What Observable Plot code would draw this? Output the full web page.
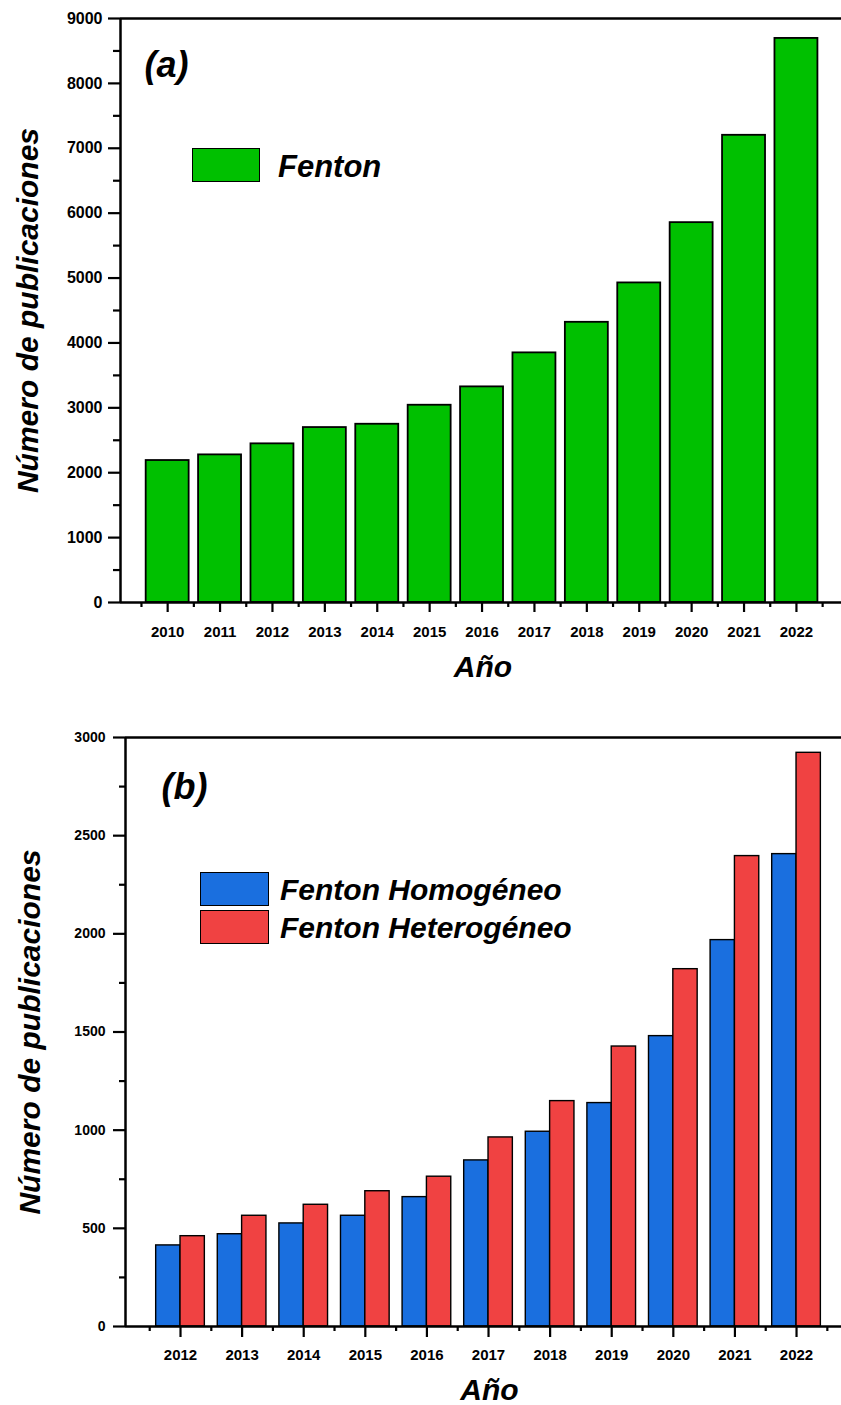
<!DOCTYPE html>
<html>
<head>
<meta charset="utf-8">
<script src="https://cdn.jsdelivr.net/npm/d3@7"></script>
<script src="https://cdn.jsdelivr.net/npm/@observablehq/plot@0.6"></script>
<style>
  body { margin: 0; background: #fff; font-family: "Liberation Sans", Arial, sans-serif; }
  #wrap { position: relative; width: 841px; height: 1405px; overflow: hidden; }
  #wrap svg { display: block; }
  .sw { position: absolute; box-sizing: border-box; border: 1.5px solid #000; }
  .lt { position: absolute; font-weight: bold; font-style: italic; color: #000; white-space: nowrap; line-height: 1; transform: translateY(-50%); }
</style>
</head>
<body>
<div id="wrap"></div>
<script>
// ---- Data ----
const yearsA = [2010, 2011, 2012, 2013, 2014, 2015, 2016, 2017, 2018, 2019, 2020, 2021, 2022];
const fenton = [2188, 2275, 2445, 2696, 2747, 3040, 3323, 3847, 4318, 4925, 5854, 7200, 8693];

const yearsB = [2012, 2013, 2014, 2015, 2016, 2017, 2018, 2019, 2020, 2021, 2022];
const homogeneo = [413, 470, 525, 564, 659, 846, 992, 1138, 1479, 1968, 2406];
const heterogeneo = [460, 564, 620, 689, 763, 963, 1148, 1426, 1820, 2396, 2922];

const yTicksA = [0, 1000, 2000, 3000, 4000, 5000, 6000, 7000, 8000, 9000];
const yMinorA = [500, 1500, 2500, 3500, 4500, 5500, 6500, 7500, 8500];
const yTicksB = [0, 500, 1000, 1500, 2000, 2500, 3000];
const yMinorB = [250, 750, 1250, 1750, 2250, 2750];

const seriesNames = ["Fenton Homogéneo", "Fenton Heterogéneo"];
const colors = { green: "#00c000", blue: "#1a6fdf", red: "#f04242" };

const FONT = "'Liberation Sans', Arial, sans-serif";
const fmt = d3.format("d");

const dataA = yearsA.map((y, i) => ({ year: y, value: fenton[i] }));
const dataHom = yearsB.map((y, i) => ({ year: y, value: homogeneo[i] }));
const dataHet = yearsB.map((y, i) => ({ year: y, value: heterogeneo[i] }));
const halfA = yearsA.map(y => y - 0.5).concat([yearsA[yearsA.length - 1] + 0.5]);
const halfB = yearsB.map(y => y - 0.5).concat([yearsB[yearsB.length - 1] + 0.5]);

const wrap = document.getElementById("wrap");

function titleMarks(dxY, dyX, dxX) {
  return [
    Plot.text(["Número de publicaciones"], {
      text: d => d, frameAnchor: "left", textAnchor: "middle", lineAnchor: "middle",
      rotate: -90, dx: dxY,
      fontSize: 30, fontWeight: "bold", fontStyle: "italic", fill: "#000"
    }),
    Plot.text(["Año"], {
      text: d => d, frameAnchor: "bottom", textAnchor: "middle", lineAnchor: "middle",
      dy: dyX, dx: dxX,
      fontSize: 30, fontWeight: "bold", fontStyle: "italic", fill: "#000"
    })
  ];
}

// ---- Chart (a) ----
const xDomA = [2009.1, 2022.86];
const chartA = Plot.plot({
  width: 841, height: 700,
  marginTop: 18, marginBottom: 98, marginLeft: 120, marginRight: 0,
  style: { fontFamily: FONT, background: "transparent", overflow: "visible" },
  x: { domain: xDomA },
  y: { domain: [0, 9000] },
  marks: [
    Plot.rectY(dataA, {
      x1: d => d.year - 0.41, x2: d => d.year + 0.41, y: "value",
      fill: colors.green, stroke: "#000", strokeWidth: 1.8
    }),
    Plot.ruleY([9000], { stroke: "#000", strokeWidth: 2.5 }),
    Plot.ruleY([0], { stroke: "#000", strokeWidth: 2.5 }),
    Plot.ruleX([xDomA[0]], { stroke: "#000", strokeWidth: 2.5 }),
    Plot.axisY({ ticks: yTicksA, tickSize: 12, tickPadding: 6, tickFormat: fmt, fontSize: 16, fontWeight: "bold", fill: "#000", strokeWidth: 2.2, label: null }),
    Plot.axisY({ ticks: yMinorA, tickSize: 7, text: null, strokeWidth: 2.2, label: null }),
    Plot.axisX({ ticks: yearsA, tickSize: 10, tickPadding: 14, tickFormat: fmt, fontSize: 15, fontWeight: "bold", fill: "#000", strokeWidth: 2.2, label: null }),
    Plot.axisX({ ticks: halfA, tickSize: 5, text: null, strokeWidth: 2.2, label: null }),
    Plot.text(["(a)"], { text: d => d, frameAnchor: "top-left", textAnchor: "start", lineAnchor: "middle", dx: 24, dy: 47, fontSize: 36, fontWeight: "bold", fontStyle: "italic", fill: "#000" }),
    ...titleMarks(-92, 65, 2)
  ]
});
wrap.appendChild(chartA);

// ---- Chart (b) ----
const xDomB = [2011.107, 2022.73];
const bw = 0.395;
const chartB = Plot.plot({
  width: 841, height: 705,
  marginTop: 37, marginBottom: 79, marginLeft: 125, marginRight: 0,
  style: { fontFamily: FONT, background: "transparent", overflow: "visible" },
  x: { domain: xDomB },
  y: { domain: [0, 3000] },
  marks: [
    Plot.rectY(dataHom, {
      x1: d => d.year - bw, x2: d => d.year, y: "value",
      fill: colors.blue, stroke: "#000", strokeWidth: 1.4
    }),
    Plot.rectY(dataHet, {
      x1: d => d.year, x2: d => d.year + bw, y: "value",
      fill: colors.red, stroke: "#000", strokeWidth: 1.4
    }),
    Plot.ruleY([3000], { stroke: "#000", strokeWidth: 2.5 }),
    Plot.ruleY([0], { stroke: "#000", strokeWidth: 2.5 }),
    Plot.ruleX([xDomB[0]], { stroke: "#000", strokeWidth: 2.5 }),
    Plot.axisY({ ticks: yTicksB, tickSize: 12, tickPadding: 8, tickFormat: fmt, fontSize: 14, fontWeight: "bold", fill: "#000", strokeWidth: 2.2, label: null }),
    Plot.axisY({ ticks: yMinorB, tickSize: 6, text: null, strokeWidth: 2.2, label: null }),
    Plot.axisX({ ticks: yearsB, tickSize: 11, tickPadding: 12, tickFormat: fmt, fontSize: 15, fontWeight: "bold", fill: "#000", strokeWidth: 2.2, label: null }),
    Plot.axisX({ ticks: halfB, tickSize: 5, text: null, strokeWidth: 2.2, label: null }),
    Plot.text(["(b)"], { text: d => d, frameAnchor: "top-left", textAnchor: "start", lineAnchor: "middle", dx: 36, dy: 50, fontSize: 36, fontWeight: "bold", fontStyle: "italic", fill: "#000" }),
    ...titleMarks(-95, 64, 6)
  ]
});
wrap.appendChild(chartB);

// ---- Legends (HTML overlays) ----
function swatch(left, top, w, h, color) {
  const d = document.createElement("div");
  d.className = "sw";
  Object.assign(d.style, { left: left + "px", top: top + "px", width: w + "px", height: h + "px", background: color });
  wrap.appendChild(d);
}
function label(left, cy, size, text) {
  const d = document.createElement("div");
  d.className = "lt";
  Object.assign(d.style, { left: left + "px", top: cy + "px", fontSize: size + "px" });
  d.textContent = text;
  wrap.appendChild(d);
}
swatch(192, 148, 68, 34, colors.green);
label(278, 166, 31, "Fenton");

swatch(200, 872, 69, 34, colors.blue);
swatch(200, 910, 69, 34, colors.red);
label(280, 890, 30, seriesNames[0]);
label(280, 928, 30, seriesNames[1]);
</script>
</body>
</html>
